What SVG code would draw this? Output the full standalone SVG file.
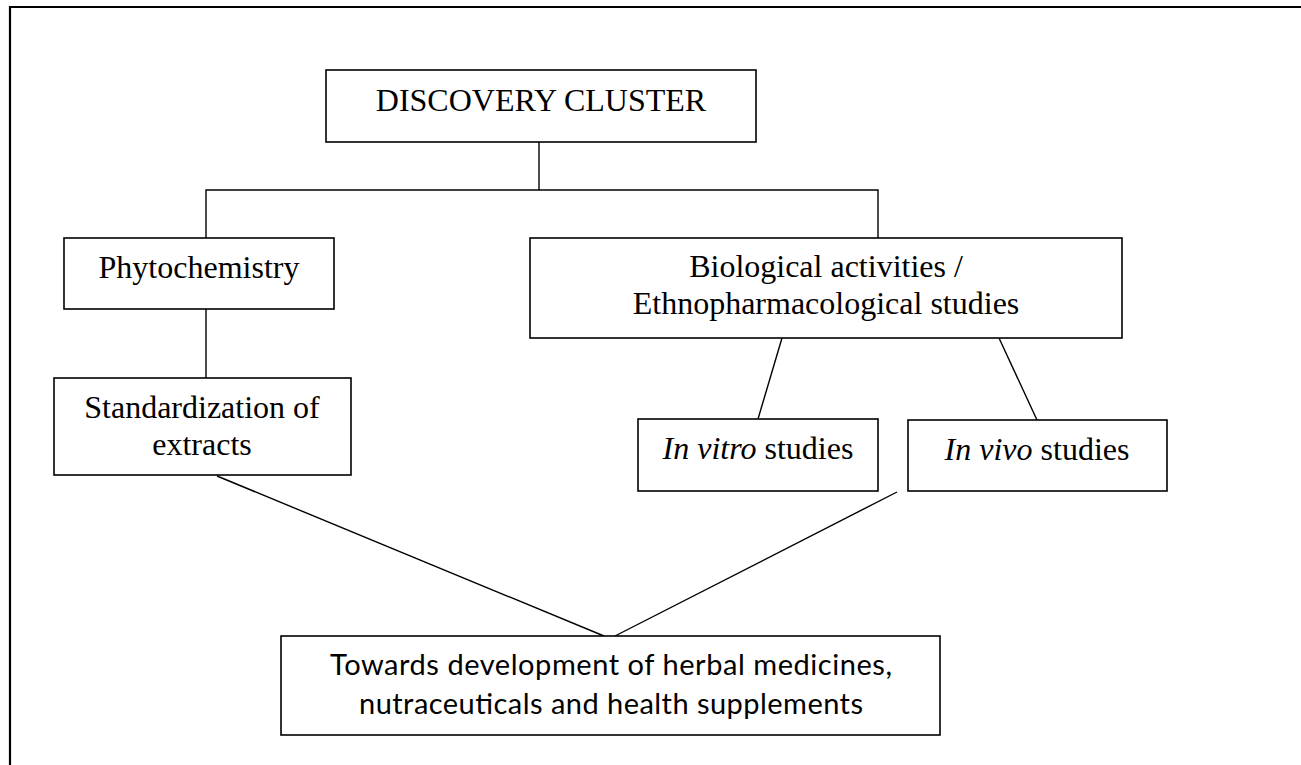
<svg xmlns="http://www.w3.org/2000/svg" width="1301" height="765" viewBox="0 0 1301 765">
<style>
.frame{fill:none;stroke:#000;stroke-width:2.2}
.box{fill:#fff;stroke:#000;stroke-width:1.6}
.conn{fill:none;stroke:#000;stroke-width:1.4}
.serif{font-family:"Liberation Serif","Times New Roman",serif;font-size:32px;fill:#000;text-anchor:middle}
.sans{font-family:Lato,"Liberation Sans",sans-serif;font-size:29px;fill:#000;text-anchor:middle}
.it{font-style:italic}
</style>
<rect x="0" y="0" width="1301" height="765" fill="#fff"/>
<path class="frame" d="M10,770 V7 H1310"/>
<g id="connectors">
<path class="conn" d="M539,142 V190"/>
<path class="conn" d="M206,238 V190 H878 V238"/>
<path class="conn" d="M206,309 V378"/>
<path class="conn" d="M782,338 L758,419"/>
<path class="conn" d="M999,338 L1037,420"/>
<path class="conn" d="M217,476 L604,636"/>
<path class="conn" d="M897,492 L615,636"/>
</g>
<g id="discovery">
<rect class="box" x="326" y="70" width="430" height="72"/>
<text class="serif" x="541" y="111">DISCOVERY CLUSTER</text>
</g>
<g id="phytochemistry">
<rect class="box" x="64" y="238" width="270" height="71"/>
<text class="serif" x="199" y="278">Phytochemistry</text>
</g>
<g id="standardization">
<rect class="box" x="54" y="378" width="297" height="97"/>
<text class="serif" x="202" y="418">Standardization of</text>
<text class="serif" x="202" y="455">extracts</text>
</g>
<g id="biological">
<rect class="box" x="530" y="238" width="592" height="100"/>
<text class="serif" x="826" y="277">Biological activities /</text>
<text class="serif" x="826" y="314">Ethnopharmacological studies</text>
</g>
<g id="invitro">
<rect class="box" x="638" y="419" width="240" height="72"/>
<text class="serif" x="758" y="459"><tspan class="it">In vitro</tspan> studies</text>
</g>
<g id="invivo">
<rect class="box" x="908" y="420" width="259" height="71"/>
<text class="serif" x="1037" y="460"><tspan class="it">In vivo</tspan> studies</text>
</g>
<g id="towards">
<rect class="box" x="281" y="636" width="659" height="99"/>
<text class="sans" x="611" y="675" textLength="562">Towards development of herbal medicines,</text>
<text class="sans" x="611" y="714" textLength="504">nutraceuticals and health supplements</text>
</g>
</svg>
